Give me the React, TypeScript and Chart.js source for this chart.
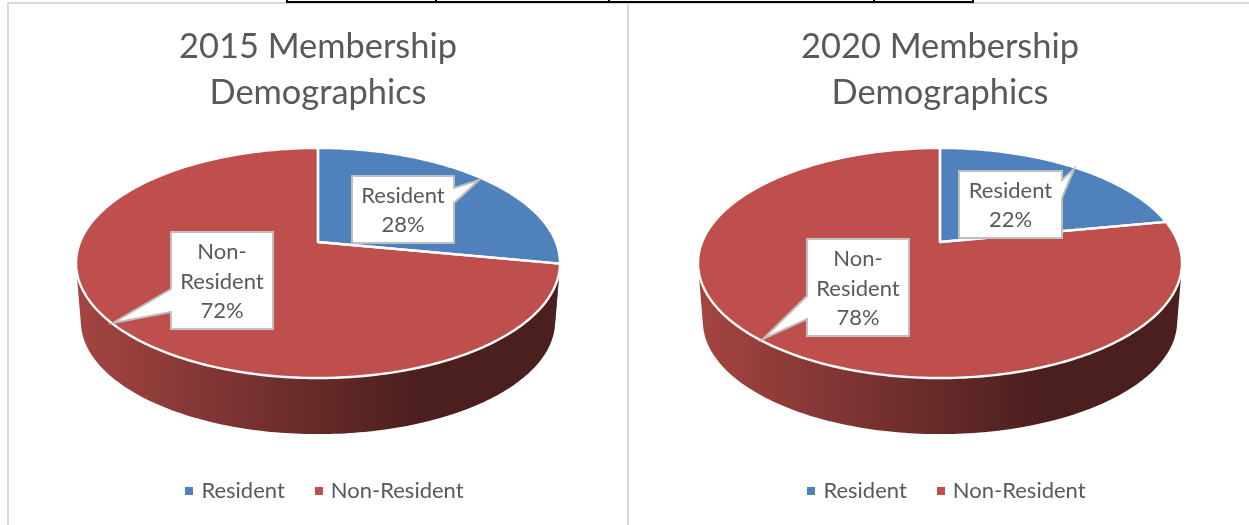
import React, { useEffect, useRef } from "react";
import { Chart, registerables } from "chart.js";

Chart.register(...registerables);

const categories = ["Resident", "Non-Resident"];
const calloutLines = [["Resident"], ["Non-", "Resident"]];
const shares2015 = [28, 72];
const shares2020 = [22, 78];
const sliceColours = ["#4F81BD", "#BE4F4C"];
const titleLine2 = "Demographics";
const tableRuleTicks = [287, 436, 609, 874, 973];

const FONT = "Lato, 'Open Sans', sans-serif";
const TEXT = "#595959";
const FRAME = "#D9D9D9";

// Perspective of the disc, in canvas pixels.
const VIEW = {
  apexY: 242,
  halfWidth: 237.9,
  halfDepth: 111.2,
  tilt: 0.1826,
  baseScale: 0.98,
  baseApexY: 300.8,
};

type Callout = {
  box: [number, number, number, number];
  tip: [number, number];
  base: [number, number];
  side: "left" | "right";
};

function shade(hex: string, f: number) {
  const n = parseInt(hex.slice(1), 16);
  const c = [(n >> 16) & 255, (n >> 8) & 255, n & 255].map((v) => Math.round(v * f));
  return `rgb(${c[0]},${c[1]},${c[2]})`;
}

// Square legend marker, wider than the legend's nominal box so the label sits close to it.
function legendMarker(colour: string) {
  const c = document.createElement("canvas");
  c.width = 8;
  c.height = 8;
  const g = c.getContext("2d") as CanvasRenderingContext2D;
  g.fillStyle = colour;
  g.fillRect(0, 0, 8, 8);
  return c;
}

function makeTiltedPie(callouts: Callout[]) {
  return {
    id: "tiltedPie",
    afterLayout(chart: any) {
      // The legend row sits a little right of the chart's centre line.
      chart.legend.left += 8;
      chart.legend.right += 8;
    },
    beforeDatasetDraw(chart: any) {
      const ctx: CanvasRenderingContext2D = chart.ctx;
      const arcs = chart.getDatasetMeta(0).data;
      const cx = chart.width / 2;
      const point = (a: number, low: boolean): [number, number] => {
        const u = Math.cos(a);
        const v = -Math.sin(a);
        const d = 1 + VIEW.tilt * v;
        const s = low ? VIEW.baseScale : 1;
        const y0 = low ? VIEW.baseApexY : VIEW.apexY;
        return [cx + (VIEW.halfWidth * s * u) / d, y0 - (VIEW.halfDepth * s * v) / d];
      };
      const angles = (arc: any) => {
        const n = Math.max(2, Math.ceil(((arc.endAngle - arc.startAngle) * 180) / Math.PI));
        return Array.from({ length: n + 1 }, (_, i) => arc.startAngle + ((arc.endAngle - arc.startAngle) * i) / n);
      };

      ctx.save();
      // Rim wall: one path of same-wound quads, so no seams show between them.
      arcs.forEach((arc: any, i: number) => {
        const base = sliceColours[i];
        const g = ctx.createLinearGradient(cx - 236, 0, cx + 236, 0);
        g.addColorStop(0, shade(base, 0.86));
        g.addColorStop(0.72, shade(base, 0.39));
        g.addColorStop(1, shade(base, 0.39));
        ctx.fillStyle = g;
        ctx.beginPath();
        const ts = angles(arc);
        for (let k = 0; k < ts.length - 1; k++) {
          const q = [point(ts[k], false), point(ts[k + 1], false), point(ts[k + 1], true), point(ts[k], true)];
          let area = 0;
          q.forEach((p, j) => {
            const r = q[(j + 1) % 4];
            area += p[0] * r[1] - r[0] * p[1];
          });
          if (area < 0) q.reverse();
          ctx.moveTo(q[0][0], q[0][1]);
          q.slice(1).forEach((p) => ctx.lineTo(p[0], p[1]));
          ctx.closePath();
        }
        ctx.fill();
      });

      // Top face of each slice.
      ctx.strokeStyle = "#FFFFFF";
      ctx.lineWidth = 2.4;
      ctx.lineJoin = "round";
      arcs.forEach((arc: any, i: number) => {
        ctx.fillStyle = sliceColours[i];
        ctx.beginPath();
        ctx.moveTo(cx, VIEW.apexY);
        angles(arc).forEach((a) => {
          const p = point(a, false);
          ctx.lineTo(p[0], p[1]);
        });
        ctx.closePath();
        ctx.fill();
      });
      arcs.forEach((arc: any) => {
        ctx.beginPath();
        ctx.moveTo(cx, VIEW.apexY);
        angles(arc).forEach((a) => {
          const p = point(a, false);
          ctx.lineTo(p[0], p[1]);
        });
        ctx.closePath();
        ctx.stroke();
      });
      ctx.restore();
      return false;
    },
    afterDraw(chart: any) {
      const ctx: CanvasRenderingContext2D = chart.ctx;
      const values: number[] = chart.data.datasets[0].data;
      const total = values.reduce((a, b) => a + b, 0);
      ctx.save();
      callouts.forEach((c, i) => {
        const [x0, y0, x1, y1] = c.box;
        ctx.beginPath();
        ctx.moveTo(x0, y0);
        ctx.lineTo(x1, y0);
        if (c.side === "right") {
          ctx.lineTo(x1, c.base[0]);
          ctx.lineTo(c.tip[0], c.tip[1]);
          ctx.lineTo(x1, c.base[1]);
        }
        ctx.lineTo(x1, y1);
        ctx.lineTo(x0, y1);
        if (c.side === "left") {
          ctx.lineTo(x0, c.base[1]);
          ctx.lineTo(c.tip[0], c.tip[1]);
          ctx.lineTo(x0, c.base[0]);
        }
        ctx.closePath();
        ctx.fillStyle = "#FFFFFF";
        ctx.fill();
        ctx.strokeStyle = "#BFBFBF";
        ctx.lineWidth = 2;
        ctx.lineJoin = "miter";
        ctx.stroke();

        const lines = [...calloutLines[i], `${Math.round((values[i] / total) * 100)}%`];
        const step = 29.5;
        const mid = (y0 + y1) / 2 + 1;
        ctx.fillStyle = TEXT;
        ctx.font = `22px ${FONT}`;
        ctx.textAlign = "center";
        ctx.textBaseline = "middle";
        lines.forEach((t, j) => {
          ctx.fillText(t, (x0 + x1) / 2, mid + (j - (lines.length - 1) / 2) * step);
        });
      });
      ctx.restore();
    },
  };
}

function MembershipPie(props: { year: string; shares: number[]; left: number; callouts: Callout[] }) {
  const ref = useRef<HTMLCanvasElement>(null);
  useEffect(() => {
    const chart = new Chart(ref.current as HTMLCanvasElement, {
      type: "pie",
      data: {
        labels: categories,
        datasets: [{ data: props.shares, backgroundColor: sliceColours, borderWidth: 0 }],
      },
      options: {
        animation: false,
        responsive: false,
        devicePixelRatio: 1,
        layout: { padding: 0 },
        plugins: {
          tooltip: { enabled: false },
          title: {
            display: true,
            text: [`${props.year} Membership`, titleLine2],
            color: TEXT,
            font: { family: FONT, size: 34.4, weight: "normal", lineHeight: 46 / 34.4 },
            padding: { top: 24, bottom: 10 },
          },
          legend: {
            position: "bottom",
            labels: {
              color: TEXT,
              font: { family: FONT, size: 22 },
              usePointStyle: true,
              boxWidth: 2,
              boxHeight: 8,
              padding: 33,
              generateLabels: () =>
                categories.map((text, i) => ({
                  text,
                  index: i,
                  fontColor: TEXT,
                  fillStyle: sliceColours[i],
                  strokeStyle: sliceColours[i],
                  lineWidth: 0,
                  hidden: false,
                  pointStyle: legendMarker(sliceColours[i]),
                })),
            },
          },
        },
      },
      plugins: [makeTiltedPie(props.callouts)],
    } as any);
    return () => chart.destroy();
  }, []);
  return (
    <canvas
      ref={ref}
      width={620}
      height={512}
      style={{ position: "absolute", left: props.left, top: 0, width: 620, height: 512, display: "block" }}
    />
  );
}

const callouts2015: Callout[] = [
  { box: [344, 176, 446, 243], tip: [471, 180], base: [188, 203], side: "right" },
  { box: [163, 232, 265, 329], tip: [105, 323], base: [289, 312], side: "left" },
];
const callouts2020: Callout[] = [
  { box: [329, 171, 432, 238], tip: [444, 169], base: [180, 198], side: "right" },
  { box: [177, 239, 279, 336], tip: [133, 339], base: [296, 319], side: "left" },
];

const rect = (left: number, top: number, width: number, height: number, background: string) => (
  <div style={{ position: "absolute", left, top, width, height, background }} />
);

export default function App() {
  return (
    <div style={{ position: "absolute", left: 0, top: 0, width: 1249, height: 525, overflow: "hidden", background: "#FFFFFF" }}>
      <MembershipPie year="2015" shares={shares2015} left={8} callouts={callouts2015} />
      <MembershipPie year="2020" shares={shares2020} left={630} callouts={callouts2020} />
      {rect(7, 2, 1242, 2, FRAME)}
      {rect(7, 2, 2, 523, FRAME)}
      {rect(627, 2, 2, 523, FRAME)}
      {rect(286, 1, 688, 2, "#000000")}
      {tableRuleTicks.map((x) => (
        <React.Fragment key={x}>{rect(x - 1, 0, 2, 3, "#000000")}</React.Fragment>
      ))}
    </div>
  );
}
